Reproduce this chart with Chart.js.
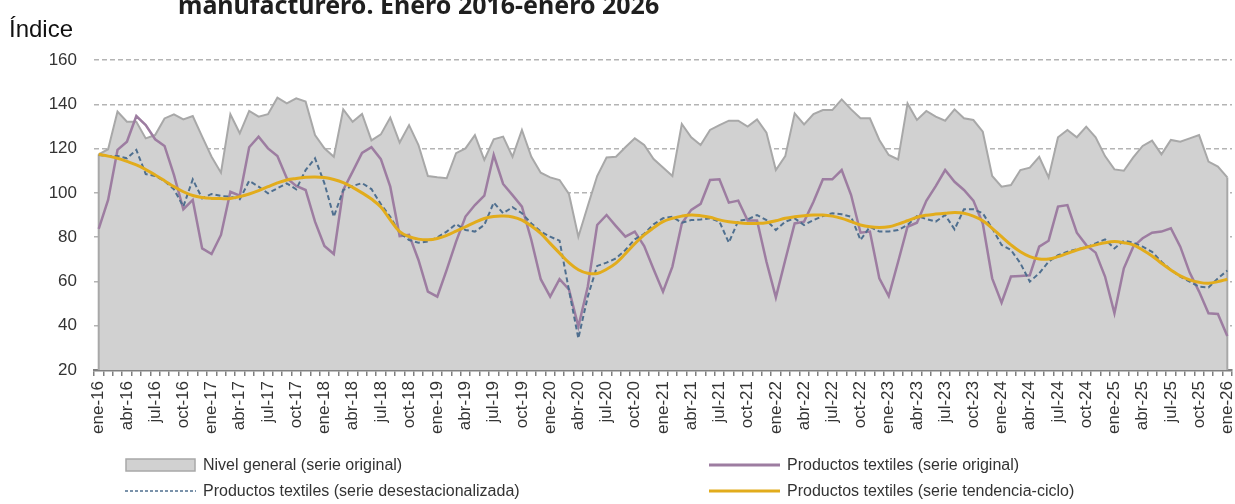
<!DOCTYPE html>
<html lang="es">
<head>
<meta charset="utf-8">
<script src="https://cdn.jsdelivr.net/npm/chart.js@4.4.1/dist/chart.umd.min.js"></script>
<style>
  body { margin: 0; background: #fff; }
  #wrap { position: relative; width: 1235px; height: 504px; overflow: hidden; font-family: "Liberation Sans", Arial, sans-serif; }
  #grafica { position: absolute; left: 0; top: 0; }
  .titulo { position: absolute; left: 178px; top: -13px; font: bold 25px "Noto Sans", sans-serif; color: #1f1f1f; white-space: nowrap; }
  .indice { position: absolute; left: 9px; top: 15px; font-size: 24px; color: #111; }
  .leyenda { position: absolute; display: flex; align-items: center; font-size: 16px; color: #333; white-space: nowrap; height: 20px; }
  .leyenda svg { margin-right: 7px; }
</style>
</head>
<body>
<div id="wrap">
  <canvas id="grafica" width="1235" height="504"></canvas>
  <div class="titulo">manufacturero. Enero 2016-enero 2026</div>
  <div class="indice">Índice</div>
  <div id="leyendas"></div>
</div>
<script>
// --- DATOS ---
const MESES = ['ene', 'feb', 'mar', 'abr', 'may', 'jun', 'jul', 'ago', 'sep', 'oct', 'nov', 'dic'];
const ANIOS = ['16', '17', '18', '19', '20', '21', '22', '23', '24', '25', '26'];

let etiquetas = [];
ANIOS.forEach(a => MESES.forEach(m => etiquetas.push(m + '-' + a)));
etiquetas = etiquetas.slice(0, 121); // ene-16 ... ene-26

const nivelGeneral = [
  117.4, 119.7, 136.7, 132.1, 132.1, 124.6, 126.1, 133.6, 135.5, 133.2, 134.7, 125.4,
  116.3, 109.1, 135.5, 126.9, 137.0, 134.4, 135.5, 143.0, 140.4, 142.7, 141.2, 126.1,
  120.1, 116.3, 137.7, 132.1, 135.6, 123.7, 126.4, 134.0, 122.7, 130.6, 121.6, 107.6,
  107.0, 106.6, 117.9, 120.1, 126.1, 114.9, 124.2, 125.4, 116.3, 128.4, 116.3, 109.1,
  107.0, 105.8, 99.5, 80.2, 94.1, 107.6, 116.0, 116.3, 120.6, 124.6, 121.6, 115.3,
  111.5, 107.6, 131.1, 125.1, 121.6, 128.4, 130.6, 132.6, 132.6, 129.9, 133.2, 127.2,
  110.3, 116.6, 135.9, 130.9, 135.6, 137.4, 137.4, 142.2, 137.7, 133.7, 133.7, 123.9,
  117.1, 115.1, 140.4, 132.9, 137.0, 134.4, 132.6, 137.7, 133.7, 132.9, 127.6, 107.6,
  102.8, 103.5, 110.3, 111.4, 116.3, 107.0, 125.1, 128.4, 125.1, 129.9, 125.1, 116.6,
  110.6, 110.0, 116.0, 121.2, 123.6, 117.4, 123.9, 123.1, 124.6, 126.1, 114.1, 111.9,
  107.0
];

const textilesOriginal = [
  83.7, 96.8, 119.4, 123.1, 134.7, 130.6, 124.2, 121.2, 108.1, 92.6, 96.8, 74.9,
  72.4, 81.0, 100.5, 98.7, 120.6, 125.4, 120.1, 116.6, 106.6, 103.1, 101.3, 87.0,
  76.0, 72.4, 101.3, 109.6, 118.0, 120.6, 115.2, 102.8, 80.5, 81.0, 69.7, 55.4,
  53.1, 65.2, 78.0, 89.3, 94.5, 98.7, 117.1, 104.0, 99.0, 93.8, 78.7, 61.0,
  53.1, 61.0, 56.4, 39.6, 57.6, 85.5, 90.0, 85.0, 80.2, 82.5, 76.0, 65.5,
  55.4, 66.7, 86.2, 92.3, 95.0, 105.8, 106.1, 95.6, 96.5, 87.5, 87.5, 68.9,
  52.8, 69.7, 86.2, 87.0, 96.0, 106.1, 106.1, 110.3, 99.0, 82.0, 82.5, 61.4,
  53.4, 68.9, 84.7, 86.5, 96.4, 103.0, 110.3, 105.0, 101.3, 96.5, 86.2, 61.4,
  50.4, 62.2, 62.5, 62.8, 75.7, 78.4, 93.8, 94.5, 82.0, 76.4, 73.0, 62.2,
  45.6, 65.9, 75.7, 79.5, 82.0, 82.5, 84.0, 75.7, 64.0, 55.4, 45.6, 45.3,
  35.4
];

const textilesDesest = [
  117.1, 116.6, 116.6, 115.6, 119.4, 108.5, 107.6, 105.4, 101.6, 93.8, 106.1, 97.5,
  99.5, 98.6, 98.3, 97.1, 105.4, 102.8, 99.8, 102.1, 104.3, 101.6, 110.3, 115.6,
  104.3, 89.2, 101.3, 103.1, 104.4, 101.7, 94.9, 89.2, 82.0, 78.7, 77.5, 78.0,
  79.9, 82.5, 85.9, 83.2, 82.5, 85.5, 95.6, 90.8, 93.5, 90.8, 86.2, 82.5,
  80.2, 78.4, 56.1, 34.3, 53.1, 67.0, 68.5, 70.4, 74.2, 79.0, 81.5, 85.8,
  88.5, 89.2, 86.5, 87.7, 88.0, 88.5, 87.0, 77.5, 87.4, 88.0, 90.0, 87.7,
  83.2, 87.0, 88.5, 85.5, 87.7, 89.5, 90.8, 90.3, 89.2, 78.7, 84.7, 82.5,
  82.5, 83.2, 85.5, 89.5, 88.2, 87.0, 90.0, 83.5, 92.6, 92.6, 90.8, 84.0,
  76.5, 74.2, 68.2, 59.9, 63.7, 68.9, 71.9, 73.4, 74.5, 75.4, 77.2, 79.0,
  74.9, 78.4, 77.5, 75.7, 73.4, 68.9, 65.2, 62.2, 59.9, 57.6, 57.3, 61.4,
  64.9
];

const textilesTendencia = [
  117.4, 116.6, 115.6, 114.2, 112.6, 110.5, 108.1, 105.5, 102.8, 100.5, 98.8, 97.9,
  97.5, 97.4, 97.5, 98.3, 99.5, 101.0, 102.8, 104.5, 105.8, 106.5, 107.0, 107.2,
  106.9, 106.0, 104.6, 102.5, 100.0, 97.2, 93.6, 87.8, 82.5, 80.2, 79.1, 78.8,
  79.4, 80.8, 82.7, 84.7, 86.7, 88.4, 89.3, 89.5, 89.1, 87.7, 85.0, 81.7,
  77.2, 72.8, 68.5, 65.3, 63.7, 63.6, 65.5, 68.3, 72.5, 77.0, 81.0, 84.2,
  87.0, 88.5, 89.5, 90.0, 89.7, 89.0, 87.8, 87.0, 86.5, 86.2, 86.2, 86.5,
  87.4, 88.5, 89.2, 89.7, 90.0, 90.0, 89.5, 88.5, 87.0, 85.5, 84.7, 84.4,
  84.7, 85.9, 87.4, 89.0, 89.9, 90.4, 90.8, 91.1, 90.8, 89.5, 87.4, 84.0,
  80.2, 76.5, 73.4, 71.2, 70.1, 70.1, 71.2, 72.7, 74.2, 75.4, 76.5, 77.5,
  78.0, 77.5, 76.5, 74.2, 71.5, 68.2, 65.2, 62.5, 60.7, 59.6, 59.2, 59.9,
  61.0
];

const ticksY = [20, 40, 60, 80, 100, 120, 140, 160];

// --- ESTILOS ---
const FUENTE = '"Liberation Sans", Arial, sans-serif';
const GRIS_AREA = '#d1d1d1';
const GRIS_BORDE = '#a8a8a8';
const MORADO = '#9d7da1';
const AZUL = '#4f6f8f';
const AMARILLO = '#e2ac1c';

// bordes verticales del area (inicio y fin de la serie)
const bordesArea = {
  id: 'bordesArea',
  afterDatasetDraw(chart, args) {
    if (args.index !== 0) return;
    const pts = args.meta.data;
    const base = chart.scales.y.getPixelForValue(ticksY[0]);
    const c = chart.ctx;
    c.save();
    c.strokeStyle = GRIS_BORDE;
    c.lineWidth = 2;
    [pts[0], pts[pts.length - 1]].forEach(p => {
      c.beginPath();
      c.moveTo(p.x, p.y);
      c.lineTo(p.x, base);
      c.stroke();
    });
    c.restore();
  }
};

const ctx = document.getElementById('grafica').getContext('2d');
const grafica = new Chart(ctx, {
  type: 'line',
  data: {
    labels: etiquetas,
    datasets: [
      {
        label: 'Nivel general (serie original)',
        data: nivelGeneral,
        fill: 'start',
        backgroundColor: GRIS_AREA,
        borderColor: GRIS_BORDE,
        borderWidth: 2,
        tension: 0,
        order: 3
      },
      {
        label: 'Productos textiles (serie original)',
        data: textilesOriginal,
        fill: false,
        borderColor: MORADO,
        borderWidth: 2.5,
        tension: 0,
        order: 2
      },
      {
        label: 'Productos textiles (serie desestacionalizada)',
        data: textilesDesest,
        fill: false,
        borderColor: AZUL,
        borderWidth: 2,
        borderDash: [5, 3],
        tension: 0,
        order: 1
      },
      {
        label: 'Productos textiles (serie tendencia-ciclo)',
        data: textilesTendencia,
        fill: false,
        borderColor: AMARILLO,
        borderWidth: 3,
        tension: 0.4,
        order: 0
      }
    ]
  },
  options: {
    responsive: false,
    animation: false,
    layout: { padding: { top: 60, right: 3, left: 0, bottom: 0 } },
    elements: { point: { radius: 0 } },
    plugins: { legend: { display: false }, tooltip: { enabled: false } },
    scales: {
      x: {
        offset: true,
        grid: { offset: true, drawOnChartArea: false, tickLength: 6, color: '#808080', lineWidth: 1.5 },
        border: { color: '#808080', width: 2.5 },
        ticks: {
          autoSkip: false, maxRotation: 90, minRotation: 90, padding: 5,
          color: '#333', font: { size: 17, family: FUENTE },
          callback: (v, i) => i % 3 === 0 ? etiquetas[i] : ''
        },
        afterFit: s => { s.height = 134; s.paddingLeft = 0; s.paddingRight = 0; }
      },
      y: {
        min: ticksY[0],
        max: ticksY[ticksY.length - 1],
        afterBuildTicks: s => { s.ticks = ticksY.map(v => ({ value: v })); },
        ticks: { padding: 17, color: '#333', font: { size: 17, family: FUENTE } },
        grid: { color: '#b4b4b4', lineWidth: 1.5, drawTicks: false },
        border: { display: false, dash: [5, 3] },
        afterFit: s => { s.width = 94; }
      }
    }
  },
  plugins: [bordesArea]
});

// --- LEYENDA ---
const posLeyenda = [[125, 455], [709, 455], [125, 481], [709, 481]];
const cont = document.getElementById('leyendas');
grafica.data.datasets.forEach((ds, i) => {
  let muestra;
  if (ds.fill) {
    muestra = `<svg width="71" height="14"><rect x="1" y="1" width="69" height="12" fill="${ds.backgroundColor}" stroke="${ds.borderColor}" stroke-width="1.5"/></svg>`;
  } else {
    const dash = ds.borderDash ? `stroke-dasharray="3,2"` : '';
    muestra = `<svg width="71" height="6"><line x1="0" y1="3" x2="71" y2="3" stroke="${ds.borderColor}" stroke-width="${ds.borderDash ? 1.5 : 3}" ${dash}/></svg>`;
  }
  const el = document.createElement('div');
  el.className = 'leyenda';
  el.style.left = posLeyenda[i][0] + 'px';
  el.style.top = posLeyenda[i][1] + 'px';
  el.innerHTML = muestra + `<span>${ds.label}</span>`;
  cont.appendChild(el);
});
</script>
</body>
</html>
